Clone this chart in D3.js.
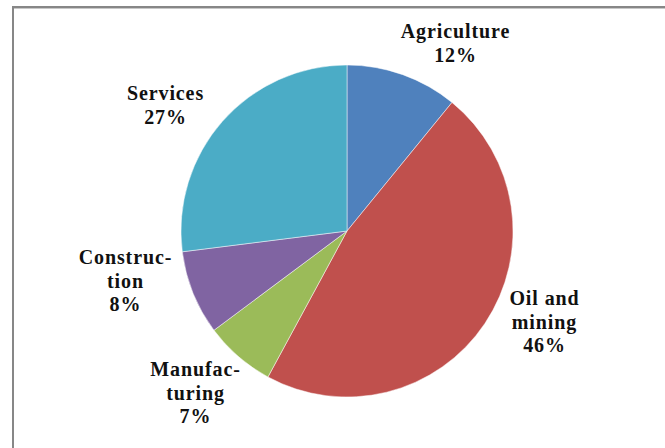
<!DOCTYPE html>
<html><head><meta charset="utf-8">
<script src="https://cdn.jsdelivr.net/npm/d3@7"></script>
<style>html,body{margin:0;padding:0;background:#fff;overflow:hidden}</style>
</head><body>
<svg id="chart" width="665" height="448"></svg>
<script>
// Data (shares; labels as printed)
const categories = ["Agriculture", "Oil and mining", "Manufacturing", "Construction", "Services"];
const shares = [10.9, 47.0, 6.9, 8.2, 27.0];
const percentLabels = ["12%", "46%", "7%", "8%", "27%"];
const labelLines = [["Agriculture"], ["Oil and", "mining"], ["Manufac-", "turing"], ["Construc-", "tion"], ["Services"]];
const colors = ["#4F81BD", "#C0504D", "#9BBB59", "#8064A2", "#4BACC6"];

// Layout
const W = 665, H = 448;
const cx = 347, cy = 231, R = 166;
// label block centres (x, y of first baseline)
const labelPos = [[455, 38], [544, 305], [195, 376], [125, 264], [165, 100]];
const lineH = 23.5;

const svg = d3.select("#chart");
svg.append("rect").attr("width", W).attr("height", H).attr("fill", "#fff");
svg.append("rect").attr("x", 13).attr("y", 7).attr("width", 800).attr("height", 600)
  .attr("fill", "none").attr("stroke", "#878787").attr("stroke-width", 2);
svg.append("line").attr("x1", 14).attr("x2", W).attr("y1", 8.5).attr("y2", 8.5)
  .attr("stroke", "#c8c8c8").attr("stroke-width", 1);

const pie = d3.pie().sort(null).value(d => d);
const arcs = pie(shares);
const arc = d3.arc().innerRadius(0).outerRadius(R);

const g = svg.append("g").attr("transform", `translate(${cx},${cy})`);
g.selectAll("path").data(arcs).join("path")
  .attr("d", arc)
  .attr("fill", (d, i) => colors[i])
  .attr("stroke", "#ffffff").attr("stroke-opacity", 0.6).attr("stroke-width", 0.8);

const lab = svg.append("g")
  .attr("font-family", "'Liberation Serif', 'Times New Roman', serif")
  .attr("font-weight", "bold").attr("font-size", 20).attr("fill", "#111")
  .attr("letter-spacing", "0.9px")
  .attr("text-anchor", "middle");
categories.forEach((c, i) => {
  const lines = labelLines[i].concat([percentLabels[i]]);
  const t = lab.append("text").attr("x", labelPos[i][0]).attr("y", labelPos[i][1]);
  lines.forEach((ln, k) => {
    t.append("tspan").attr("x", labelPos[i][0] + 0.5).attr("dy", k === 0 ? 0 : lineH).text(ln);
  });
});
</script>
</body></html>
